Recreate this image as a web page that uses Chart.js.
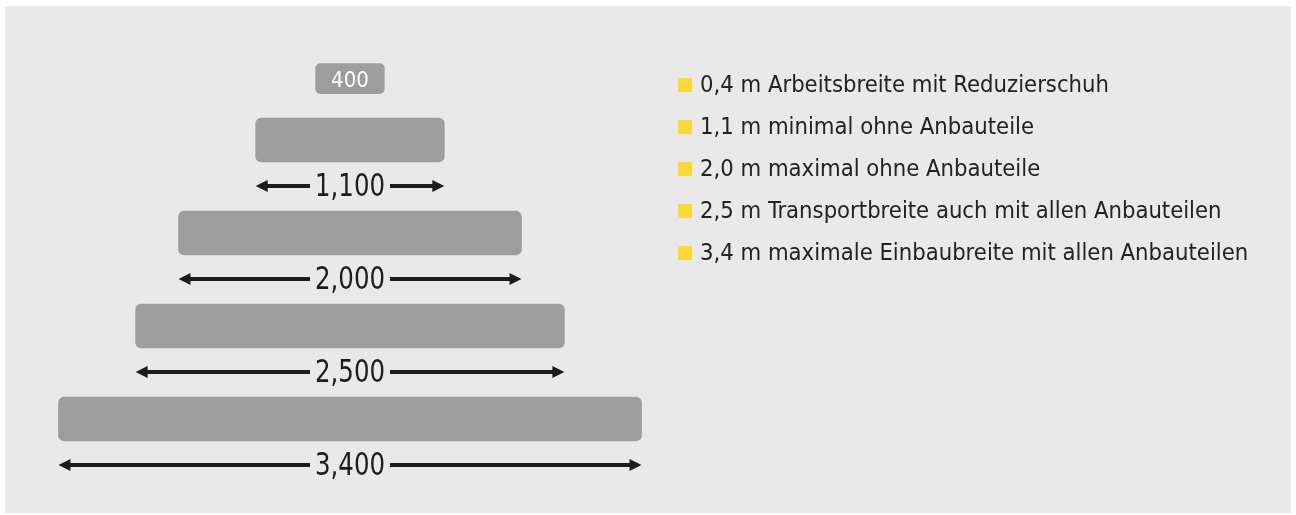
<!DOCTYPE html>
<html>
<head>
<meta charset="utf-8">
<script src="https://cdn.jsdelivr.net/npm/chart.js@4.4.1/dist/chart.umd.min.js"></script>
<style>
  body { margin: 0; background: #fff; }
  #wrap { position: absolute; left: 5px; top: 6px; width: 1286px; height: 507px; background: #e8e9e8; }
</style>
</head>
<body>
<div id="wrap"><canvas id="myChart"></canvas></div>
<script>
// widths in mm, top (cap) first
var widths = [400, 1100, 2000, 2500, 3400];
var widthLabels = ['400', '1,100', '2,000', '2,500', '3,400'];
var legendTexts = [
    '0,4 m Arbeitsbreite mit Reduzierschuh',
    '1,1 m minimal ohne Anbauteile',
    '2,0 m maximal ohne Anbauteile',
    '2,5 m Transportbreite auch mit allen Anbauteilen',
    '3,4 m maximale Einbaubreite mit allen Anbauteilen'
];

var FONT = "'DejaVu Sans Condensed', 'Liberation Sans', sans-serif";
var barGray = '#9d9d9d';
var capRow = 0.34; // the small 400 box sits closer to the first row
var squeeze = 0.85; // numbers under the bars are set narrower

// arrows + labels under each bar, and the "400" text in the cap box
var widthMarks = {
    id: 'widthMarks',
    afterDatasetsDraw: function (chart) {
        var ctx = chart.ctx;
        ctx.save();

        var cap = chart.getDatasetMeta(0).data[0];
        ctx.fillStyle = '#fff';
        ctx.font = '22px ' + FONT;
        ctx.textAlign = 'center';
        ctx.textBaseline = 'alphabetic';
        ctx.fillText(widthLabels[0], (cap.x + cap.base) / 2, cap.y + 8);

        chart.getDatasetMeta(1).data.forEach(function (bar, i) {
            var left = Math.min(bar.x, bar.base);
            var right = Math.max(bar.x, bar.base);
            var cx = (left + right) / 2;
            var y = bar.y + 46;
            var label = widthLabels[i + 1];

            ctx.font = '32px ' + FONT;
            var tw = ctx.measureText(label).width * squeeze;
            var gap = 5, head = 12;

            ctx.strokeStyle = '#1c1c1c';
            ctx.fillStyle = '#1c1c1c';
            ctx.lineWidth = 4;
            ctx.beginPath();
            ctx.moveTo(left + head - 1, y);
            ctx.lineTo(cx - tw / 2 - gap, y);
            ctx.moveTo(cx + tw / 2 + gap, y);
            ctx.lineTo(right - head + 1, y);
            ctx.stroke();

            ctx.beginPath();
            ctx.moveTo(left, y);
            ctx.lineTo(left + head, y - 6);
            ctx.lineTo(left + head, y + 6);
            ctx.closePath();
            ctx.moveTo(right, y);
            ctx.lineTo(right - head, y - 6);
            ctx.lineTo(right - head, y + 6);
            ctx.closePath();
            ctx.fill();

            ctx.save();
            ctx.translate(cx, y + 9.5);
            ctx.scale(squeeze, 1);
            ctx.textAlign = 'center';
            ctx.textBaseline = 'alphabetic';
            ctx.fillText(label, 0, 0);
            ctx.restore();
        });

        // legend
        ctx.font = '23.6px ' + FONT;
        ctx.textAlign = 'left';
        ctx.textBaseline = 'alphabetic';
        legendTexts.forEach(function (t, i) {
            var top = 72 + i * 42;
            ctx.fillStyle = '#fdd73a';
            ctx.fillRect(673, top, 14, 14);
            ctx.fillStyle = '#222';
            ctx.fillText(t, 695, top + 14);
        });
        ctx.restore();
    }
};

var ctx = document.getElementById('myChart').getContext('2d');
var myChart = new Chart(ctx, {
    type: 'bar',
    data: {
        datasets: [{
            label: 'cap',
            data: [{ x: [-widths[0] / 2, widths[0] / 2], y: capRow }],
            backgroundColor: barGray,
            barThickness: 30,
            borderRadius: 5,
            borderSkipped: false,
            grouped: false,
            clip: false
        }, {
            label: 'widths',
            data: widths.slice(1).map(function (w, i) {
                return { x: [-w / 2, w / 2], y: i + 1 };
            }),
            backgroundColor: barGray,
            barThickness: 44,
            borderRadius: 6,
            borderSkipped: false,
            grouped: false,
            clip: false
        }]
    },
    options: {
        indexAxis: 'y',
        responsive: true,
        maintainAspectRatio: false,
        animation: false,
        layout: {
            padding: { left: 2, right: 598, top: 87.5, bottom: 47.5 }
        },
        plugins: {
            legend: { display: false },
            tooltip: { enabled: false }
        },
        scales: {
            x: { type: 'linear', min: -2000, max: 2000, offset: false, display: false },
            y: { type: 'linear', min: 0.5, max: 4.5, reverse: true, offset: false, display: false }
        }
    },
    plugins: [widthMarks]
});
</script>
</body>
</html>
